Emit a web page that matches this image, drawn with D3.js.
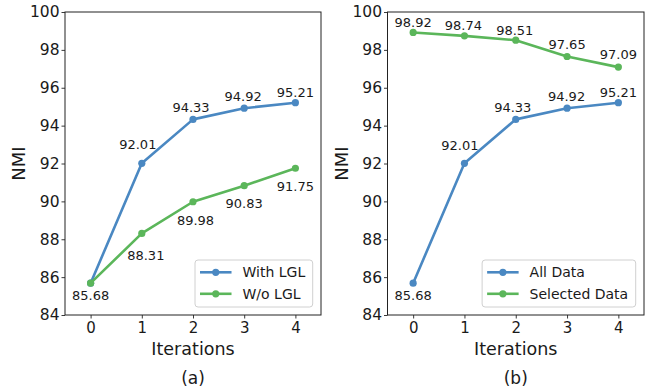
<!DOCTYPE html>
<html><head><meta charset="utf-8">
<script src="https://cdn.jsdelivr.net/npm/d3@7"></script>
<style>body{margin:0;background:#fff}svg{display:block}text{font-family:"DejaVu Sans",sans-serif;fill:#1a1a1a}</style>
</head><body><svg id="c" width="649" height="389"></svg>
<script>
const iterations = [0, 1, 2, 3, 4];
const yTicks = [84, 86, 88, 90, 92, 94, 96, 98, 100];
const withLGL = [85.68, 92.01, 94.33, 94.92, 95.21];
const withoutLGL = [85.68, 88.31, 89.98, 90.83, 91.75];
const allData = [85.68, 92.01, 94.33, 94.92, 95.21];
const selectedData = [98.92, 98.74, 98.51, 97.65, 97.09];

const BLUE = "#4a88c2", GREEN = "#5bb65a";
const svg = d3.select("#c");

// label placement: pixel nudges relative to each point
const panels = [
  {left: 65, right: 321, caption: "(a)",
   series: [
     {name: "With LGL", values: withLGL, color: BLUE,
      labels: [null, [-4,-19], [-2,-12.5], [-1,-12], [0,-10.5]]},
     {name: "W/o LGL", values: withoutLGL, color: GREEN,
      labels: [[0,11.7], [4,22], [2.5,18.3], [0,17.6], [0,17.7]]}
   ]},
  {left: 387.5, right: 644, caption: "(b)",
   series: [
     {name: "All Data", values: allData, color: BLUE,
      labels: [[0,11.7], [-4.5,-17.5], [-3,-12.3], [-0.5,-12.3], [0,-10.4]]},
     {name: "Selected Data", values: selectedData, color: GREEN,
      labels: [[0,-10], [-1,-10.7], [-1,-10], [0,-12.4], [0,-13]]}
   ]}
];
const plotTop = 12, plotBottom = 315;

panels.forEach(p => {
  const x = d3.scaleLinear().domain([-0.5, 4.5]).range([p.left, p.right]);
  const y = d3.scaleLinear().domain([84, 100]).range([plotBottom, plotTop]);
  const g = svg.append("g");

  const xa = g.append("g").attr("transform", `translate(0,${plotBottom})`)
    .call(d3.axisBottom(x).tickValues(iterations).tickFormat(d3.format("d")).tickSize(3.5).tickPadding(4));
  const ya = g.append("g").attr("transform", `translate(${p.left},0)`)
    .call(d3.axisLeft(y).tickValues(yTicks).tickSize(3.5).tickPadding(2));
  [xa, ya].forEach(a => {
    a.select(".domain").remove();
    a.attr("font-size", null).attr("font-family", null);
    a.selectAll(".tick line").attr("stroke", "#222").attr("stroke-width", 0.9);
    a.selectAll(".tick text").style("font-family", "DejaVu Sans").attr("fill", "#1a1a1a");
  });
  xa.selectAll(".tick text").style("font-size", "15px");
  ya.selectAll(".tick text").style("font-size", "15.5px");
  g.append("rect").attr("x", p.left).attr("y", plotTop).attr("width", p.right - p.left).attr("height", plotBottom - plotTop)
    .attr("fill", "none").attr("stroke", "#222").attr("stroke-width", 1);

  const line = d3.line().x((d, i) => x(iterations[i])).y(d => y(d));
  p.series.forEach(s => {
    g.append("path").datum(s.values).attr("d", line).attr("fill", "none")
      .attr("stroke", s.color).attr("stroke-width", 2.6).attr("stroke-linejoin", "round");
    g.selectAll(null).data(s.values).enter().append("circle")
      .attr("cx", (d, i) => x(iterations[i])).attr("cy", d => y(d)).attr("r", 3.6).attr("fill", s.color);
    const lab = s.values.map((v, i) => ({v, i, off: s.labels[i]})).filter(d => d.off);
    g.selectAll(null).data(lab).enter().append("text")
      .attr("x", d => x(iterations[d.i]) + d.off[0])
      .attr("y", d => y(d.v) + d.off[1])
      .attr("dy", "0.36em").attr("text-anchor", "middle").style("font-size", "13px")
      .text(d => d.v.toFixed(2));
  });

  const lg = g.append("g");
  const box = lg.append("rect").attr("rx", 3).attr("fill", "#fff").attr("fill-opacity", 0.85)
    .attr("stroke", "#d0d0d0").attr("stroke-width", 1);
  let maxW = 0;
  const texts = p.series.map((s, i) => {
    const t = lg.append("text").style("font-size", "14px").attr("y", i * 21.5).attr("dy", "0.36em").text(s.name);
    maxW = Math.max(maxW, t.node().getComputedTextLength());
    return t;
  });
  const boxW = 5 + 31.5 + 11 + maxW + 7.5;
  const bx = p.right - 8.3 - boxW, by = plotBottom - 8 - 47;
  box.attr("x", bx).attr("y", by).attr("width", boxW).attr("height", 47);
  p.series.forEach((s, i) => {
    const ry = by + 12.3 + i * 21.5;
    lg.append("line").attr("x1", bx + 5).attr("x2", bx + 36.5).attr("y1", ry).attr("y2", ry)
      .attr("stroke", s.color).attr("stroke-width", 2.6);
    lg.append("circle").attr("cx", bx + 20.75).attr("cy", ry).attr("r", 3.6).attr("fill", s.color);
    texts[i].attr("x", bx + 47.5).attr("y", ry);
  });

  const cx = (p.left + p.right) / 2;
  g.append("text").attr("x", cx).attr("y", 355).attr("text-anchor", "middle").style("font-size", "17.5px").text("Iterations");
  g.append("text").attr("transform", `translate(${p.left - 40},${(plotTop + plotBottom) / 2}) rotate(-90)`)
    .attr("text-anchor", "middle").style("font-size", "18px").text("NMI");
  g.append("text").attr("x", cx).attr("y", 384).attr("text-anchor", "middle").style("font-size", "17px").text(p.caption);
});
</script></body></html>
